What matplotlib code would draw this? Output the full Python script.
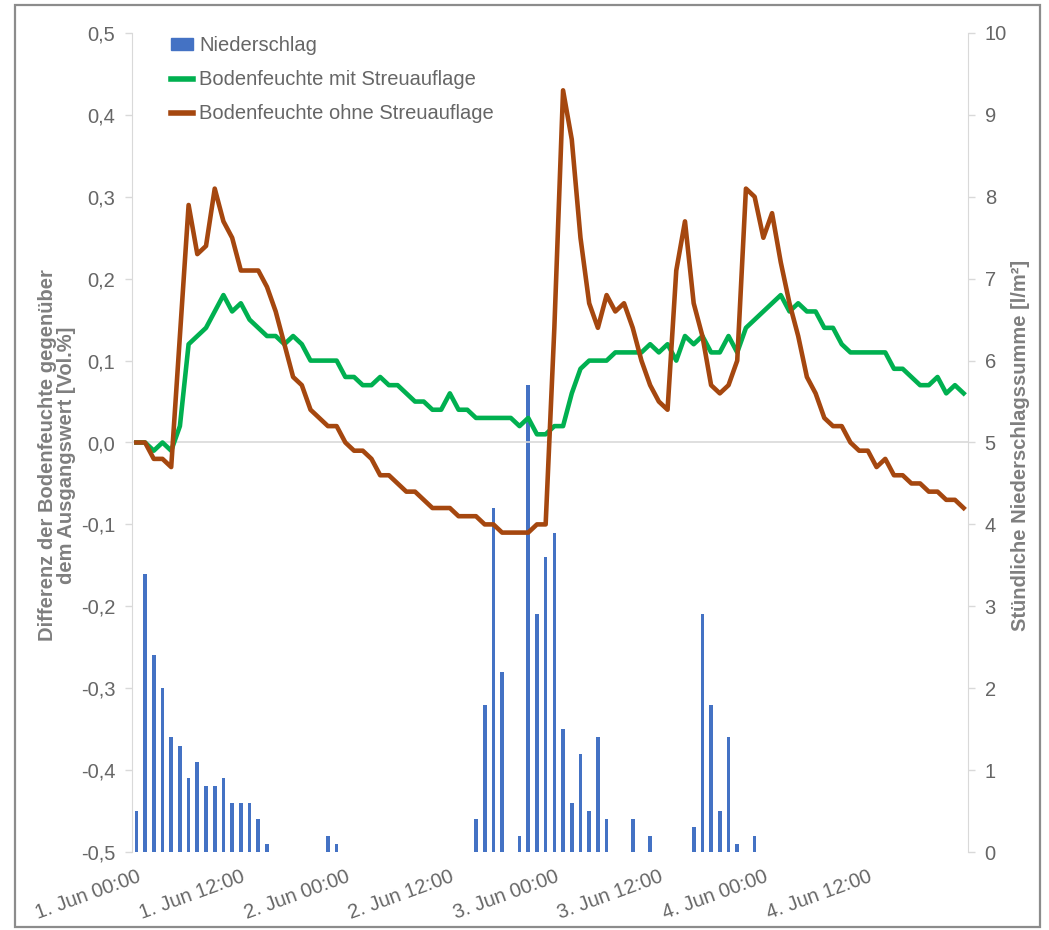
import matplotlib
matplotlib.use("Agg")
import matplotlib.pyplot as plt
from matplotlib.patches import Rectangle
from matplotlib.lines import Line2D
import numpy as np

plt.rcParams['font.family'] = ['Liberation Sans', 'DejaVu Sans']

# ---------------- data (hourly, 1 Jun 00:00 .. 4 Jun 23:00) ----------------
hours = list(range(96))

niederschlag = [
    0.5, 3.4, 2.4, 2.0, 1.4, 1.3, 0.9, 1.1, 0.8, 0.8, 0.9, 0.6,
    0.6, 0.6, 0.4, 0.1, 0, 0, 0, 0, 0, 0, 0.2, 0.1,
    0, 0, 0, 0, 0, 0, 0, 0, 0, 0, 0, 0,
    0, 0, 0, 0.4, 1.8, 4.2, 2.2, 0, 0.2, 5.7, 2.9, 3.6,
    3.9, 1.5, 0.6, 1.2, 0.5, 1.4, 0.4, 0, 0, 0.4, 0, 0.2,
    0, 0, 0, 0, 0.3, 2.9, 1.8, 0.5, 1.4, 0.1, 0, 0.2,
    0, 0, 0, 0, 0, 0, 0, 0, 0, 0, 0, 0,
    0, 0, 0, 0, 0, 0, 0, 0, 0, 0, 0, 0,
]

mit_streu = [
    0.00, 0.00, -0.01, 0.00, -0.01, 0.02,
    0.12, 0.13, 0.14, 0.16, 0.18, 0.16,
    0.17, 0.15, 0.14, 0.13, 0.13, 0.12,
    0.13, 0.12, 0.10, 0.10, 0.10, 0.10,
    0.08, 0.08, 0.07, 0.07, 0.08, 0.07,
    0.07, 0.06, 0.05, 0.05, 0.04, 0.04,
    0.06, 0.04, 0.04, 0.03, 0.03, 0.03,
    0.03, 0.03, 0.02, 0.03, 0.01, 0.01,
    0.02, 0.02, 0.06, 0.09, 0.10, 0.10,
    0.10, 0.11, 0.11, 0.11, 0.11, 0.12,
    0.11, 0.12, 0.10, 0.13, 0.12, 0.13,
    0.11, 0.11, 0.13, 0.11, 0.14, 0.15,
    0.16, 0.17, 0.18, 0.16, 0.17, 0.16,
    0.16, 0.14, 0.14, 0.12, 0.11, 0.11,
    0.11, 0.11, 0.11, 0.09, 0.09, 0.08,
    0.07, 0.07, 0.08, 0.06, 0.07, 0.06,
]

ohne_streu = [
    0.00, 0.00, -0.02, -0.02, -0.03, 0.13,
    0.29, 0.23, 0.24, 0.31, 0.27, 0.25,
    0.21, 0.21, 0.21, 0.19, 0.16, 0.12,
    0.08, 0.07, 0.04, 0.03, 0.02, 0.02,
    0.00, -0.01, -0.01, -0.02, -0.04, -0.04,
    -0.05, -0.06, -0.06, -0.07, -0.08, -0.08,
    -0.08, -0.09, -0.09, -0.09, -0.10, -0.10,
    -0.11, -0.11, -0.11, -0.11, -0.10, -0.10,
    0.14, 0.43, 0.37, 0.25, 0.17, 0.14,
    0.18, 0.16, 0.17, 0.14, 0.10, 0.07,
    0.05, 0.04, 0.21, 0.27, 0.17, 0.13,
    0.07, 0.06, 0.07, 0.10, 0.31, 0.30,
    0.25, 0.28, 0.22, 0.17, 0.13, 0.08,
    0.06, 0.03, 0.02, 0.02, 0.00, -0.01,
    -0.01, -0.03, -0.02, -0.04, -0.04, -0.05,
    -0.05, -0.06, -0.06, -0.07, -0.07, -0.08,
]

xtick_pos = [0, 12, 24, 36, 48, 60, 72, 84]
xtick_labels = ["1. Jun 00:00", "1. Jun 12:00", "2. Jun 00:00", "2. Jun 12:00",
                "3. Jun 00:00", "3. Jun 12:00", "4. Jun 00:00", "4. Jun 12:00"]
left_ticks = [-0.5, -0.4, -0.3, -0.2, -0.1, 0.0, 0.1, 0.2, 0.3, 0.4, 0.5]
right_ticks = [0, 1, 2, 3, 4, 5, 6, 7, 8, 9, 10]

# ---------------- styling ----------------
C_BAR = '#4472C4'
C_MIT = '#00B050'
C_OHNE = '#A5470F'
C_TXT = '#666666'
C_TITLE = '#7F7F7F'
C_AXIS = '#D9D9D9'
FS = 14.5

W, H = 1049, 930
fig = plt.figure(figsize=(W / 100, H / 100), dpi=100)
L, R, T, B = 132, 968, 33, 852
ax = fig.add_axes([L / W, 1 - B / H, (R - L) / W, (B - T) / H])
ax2 = ax.twinx()

ax2.bar(hours, niederschlag, width=0.42, color=C_BAR, zorder=2)
ax.axhline(0, color=C_AXIS, lw=1.2, zorder=1)
ax.plot(hours, mit_streu, color=C_MIT, lw=3.3, solid_joinstyle='round', zorder=3)
ax.plot(hours, ohne_streu, color=C_OHNE, lw=3.3, solid_joinstyle='round', zorder=4)

ax.set_zorder(ax2.get_zorder() + 1)
ax.patch.set_visible(False)

ax.set_xlim(-0.5, 95.5)
ax.set_ylim(-0.5, 0.5)
ax2.set_ylim(0, 10)

ax.set_yticks(left_ticks)
ax.set_yticklabels([f"{v:.1f}".replace('.', ',') for v in left_ticks])
ax2.set_yticks(right_ticks)
ax2.set_yticklabels([str(v) for v in right_ticks])

ax.set_xticks(xtick_pos)
ax.set_xticklabels(xtick_labels, rotation=20, ha='right', rotation_mode='anchor')
ax.tick_params(axis='x', length=0, pad=11, labelsize=FS, labelcolor=C_TXT)
ax.tick_params(axis='y', length=5, width=1, color=C_AXIS, pad=7, labelsize=FS, labelcolor=C_TXT)
ax2.tick_params(axis='y', length=5, width=1, color=C_AXIS, pad=7, labelsize=FS, labelcolor=C_TXT)

for a in (ax, ax2):
    for s in a.spines.values():
        s.set_visible(False)
ax.spines['left'].set_visible(True)
ax.spines['left'].set_color(C_AXIS)
ax2.spines['right'].set_visible(True)
ax2.spines['right'].set_color(C_AXIS)

fig.text(57 / W, 1 - 455 / H, "Differenz der Bodenfeuchte gegenüber\ndem Ausgangswert [Vol.%]",
         rotation=90, ha='center', va='center', fontsize=FS, fontweight='bold',
         color=C_TITLE, linespacing=1.05)
fig.text(1020 / W, 1 - 445 / H, "Stündliche Niederschlagssumme [l/m²]",
         rotation=90, ha='center', va='center', fontsize=FS, fontweight='bold',
         color=C_TITLE)

handles = [Rectangle((0, 0), 1, 1, color=C_BAR),
           Line2D([], [], color=C_MIT, lw=4),
           Line2D([], [], color=C_OHNE, lw=4)]
labels = ["Niederschlag", "Bodenfeuchte mit Streuauflage", "Bodenfeuchte ohne Streuauflage"]
leg = fig.legend(handles, labels, loc='upper left', bbox_to_anchor=(171 / W, 1 - 36 / H),
                 frameon=False, fontsize=FS, handlelength=1.1, handleheight=0.5,
                 handletextpad=0.3, labelspacing=0.75, borderpad=0, borderaxespad=0)
for t in leg.get_texts():
    t.set_color(C_TXT)

fig.patches.append(Rectangle((15 / W, 1 - 927 / H), (1040 - 15) / W, (927 - 5) / H,
                             transform=fig.transFigure, fill=False,
                             edgecolor='#8C8C8C', lw=1.6))

fig.savefig("out.png", dpi=100)
